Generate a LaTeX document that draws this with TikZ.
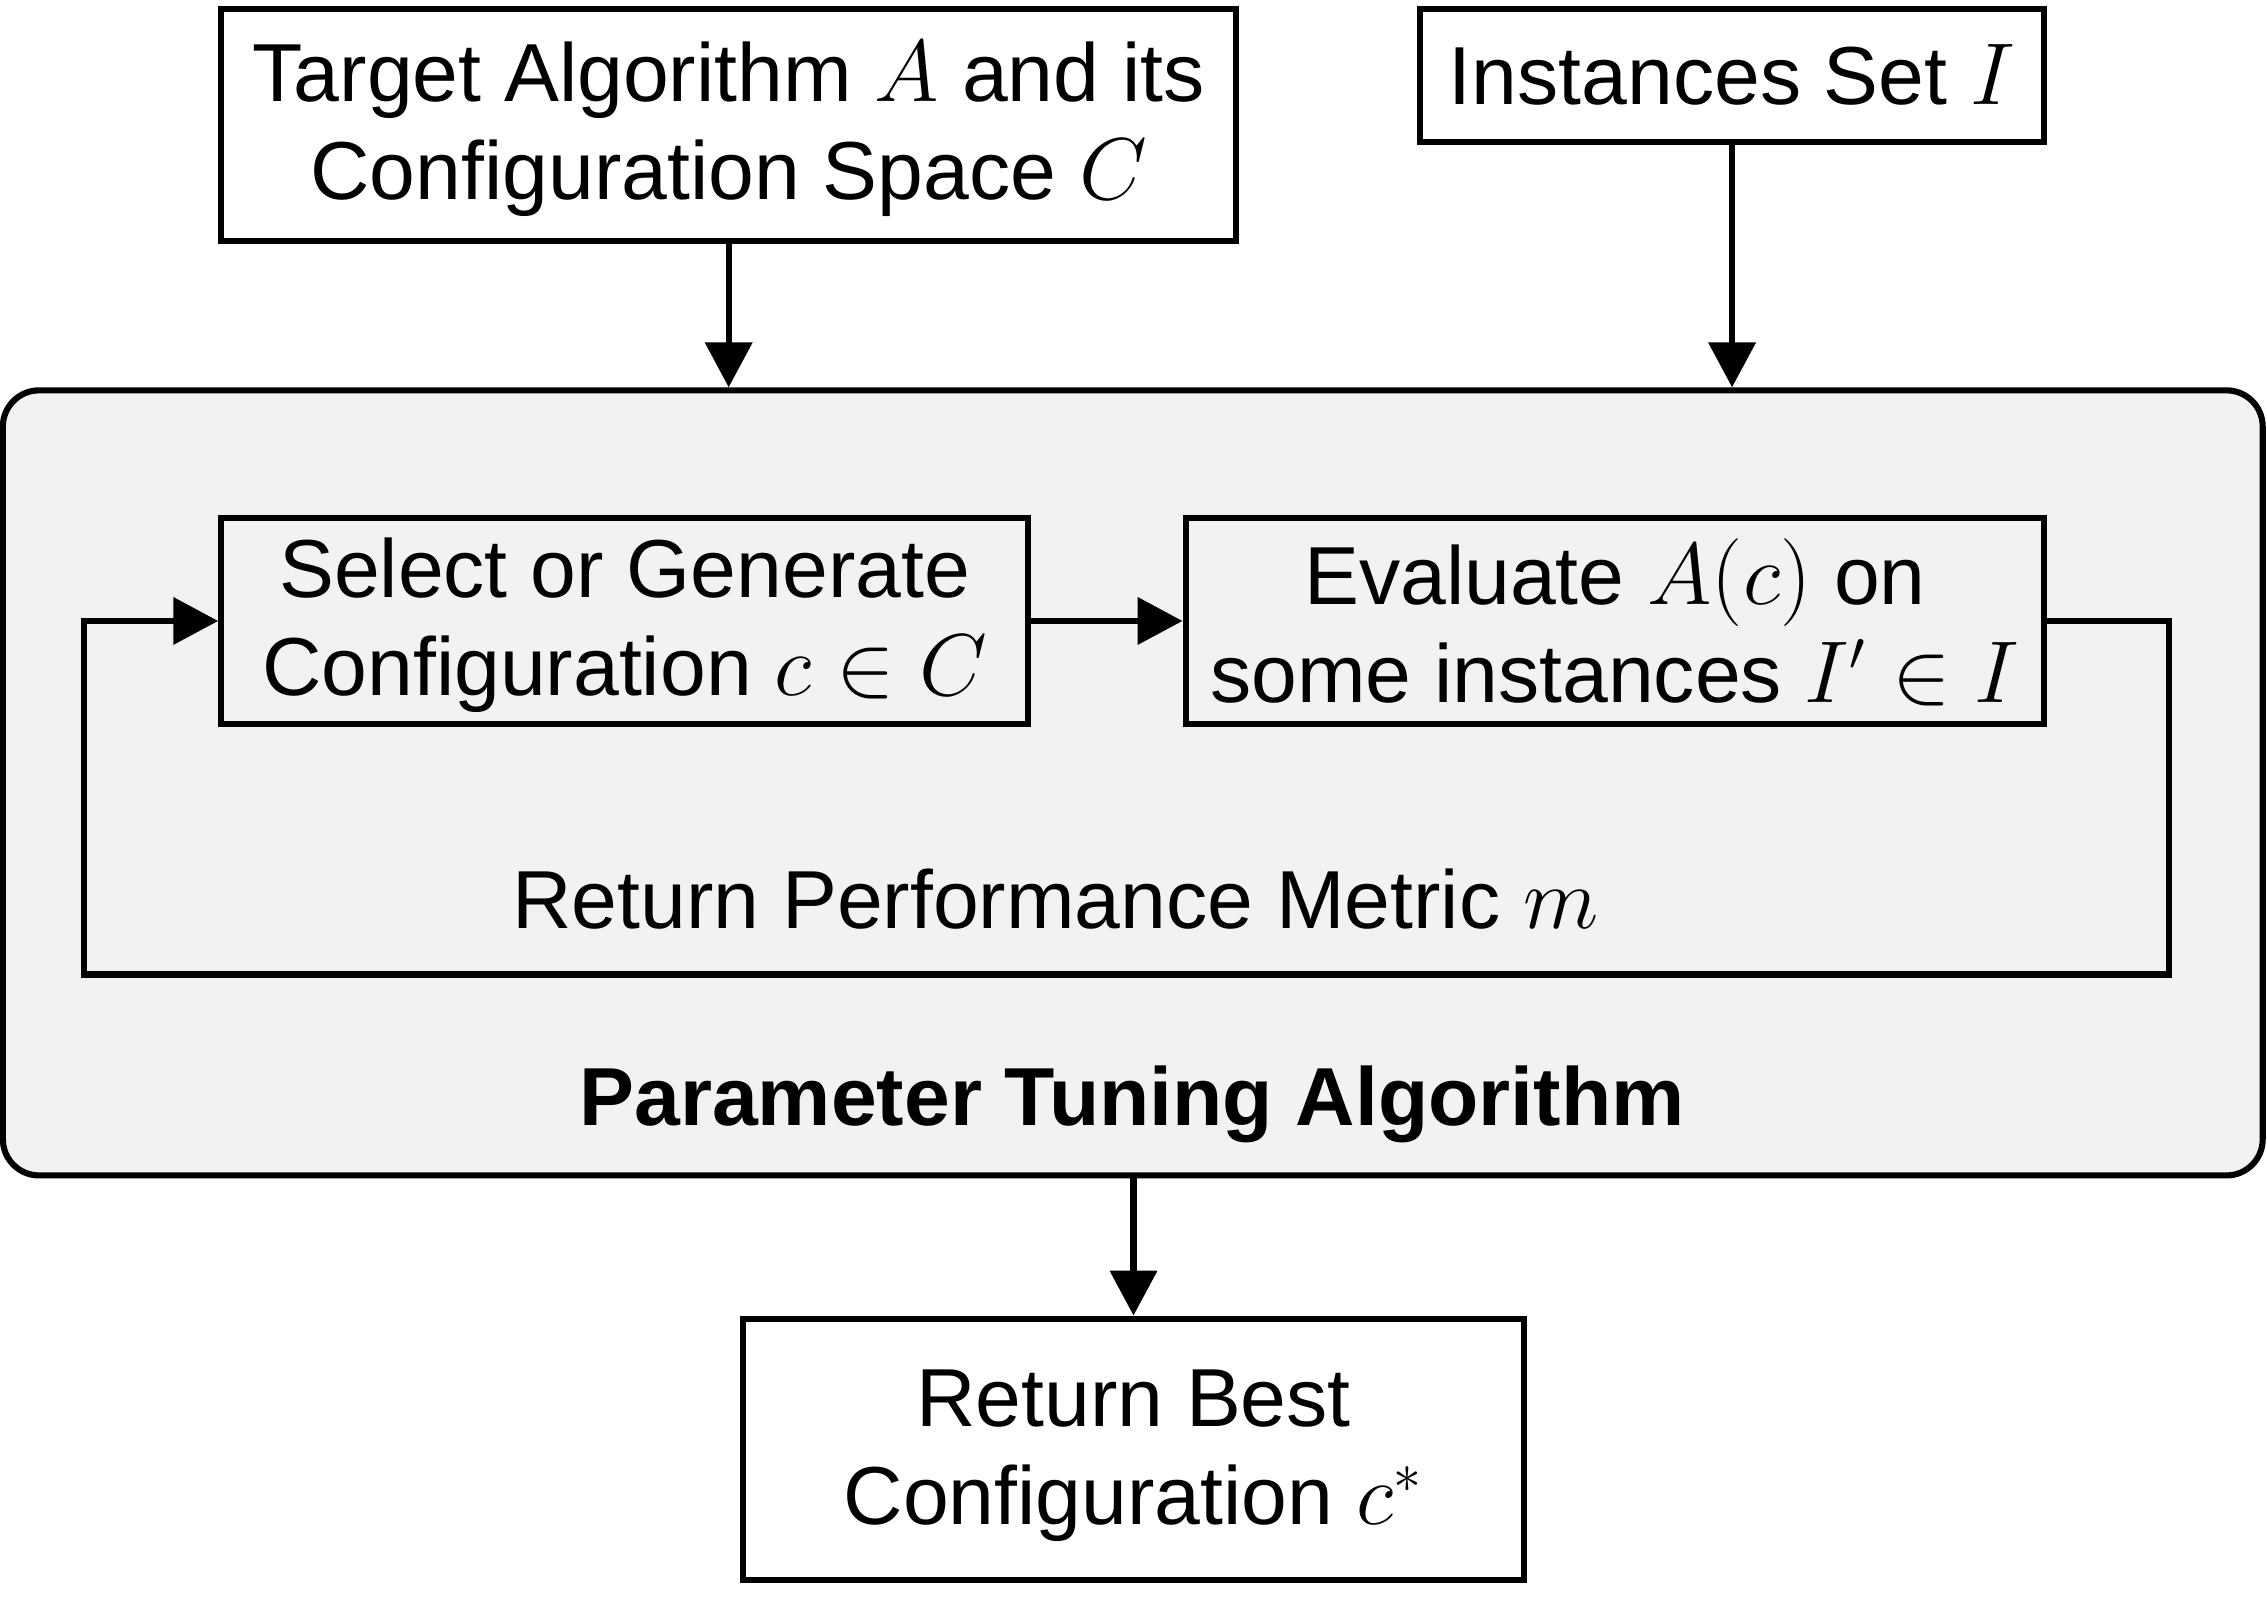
\documentclass[tikz,border=0pt]{standalone}
\usepackage{fontspec}
\setmainfont{Liberation Sans}
\usetikzlibrary{arrows.meta}

\begin{document}
\begin{tikzpicture}[
  font=\fontsize{16.2}{19.3}\selectfont,
  line width=1.2pt,
  >={Triangle[length=3.1mm,width=3.2mm]},
  stepbox/.style={draw,align=center,inner sep=0pt},
  loopbox/.style={draw,fill=gray!10,rounded corners=2.5mm,inner sep=0pt}
]
  \useasboundingbox (0,0) rectangle (15.68,-11.06);

  \node [loopbox,minimum width=15.63cm,minimum height=5.43cm] (tuner) at (7.835,-5.415) {};

  \node [stepbox,minimum width=7.02cm,minimum height=1.61cm] (target) at (5.04,-0.865) {\strut Target Algorithm $A$ and its\\Configuration Space $C$};
  \node [stepbox,minimum width=4.32cm,minimum height=0.92cm] (inst) at (11.98,-0.52) {Instances Set $I$};

  \node [stepbox,minimum width=5.58cm,minimum height=1.43cm] (select) at (4.32,-4.295) {\strut Select or Generate\\Configuration $c \in C$};
  \node [stepbox,minimum width=5.94cm,minimum height=1.43cm] (eval) at (11.17,-4.295) {\strut Evaluate $A(c)$ on\\some instances $I' \in I$};

  \node (metric) at (7.30,-6.22) {Return Performance Metric $m$};
  \node [font=\fontsize{16.2}{19.3}\selectfont\bfseries] (title) at (7.83,-7.64) {Parameter Tuning Algorithm};

  \node [stepbox,minimum width=5.40cm,minimum height=1.81cm] (best) at (7.84,-10.025) {\strut Return Best\\Configuration $c^{*}$};

  \draw [->] (target.south) -- (target.south |- tuner.north);
  \draw [->] (inst.south) -- (inst.south |- tuner.north);
  \draw [->] (select.east) -- (eval.west);
  \draw [->] (eval.east) -- (15.00,-4.295) -- (15.00,-6.74) -- (0.58,-6.74) -- (0.58,-4.295) -- (select.west);
  \draw [->] (best.north |- tuner.south) -- (best.north);

\end{tikzpicture}
\end{document}
